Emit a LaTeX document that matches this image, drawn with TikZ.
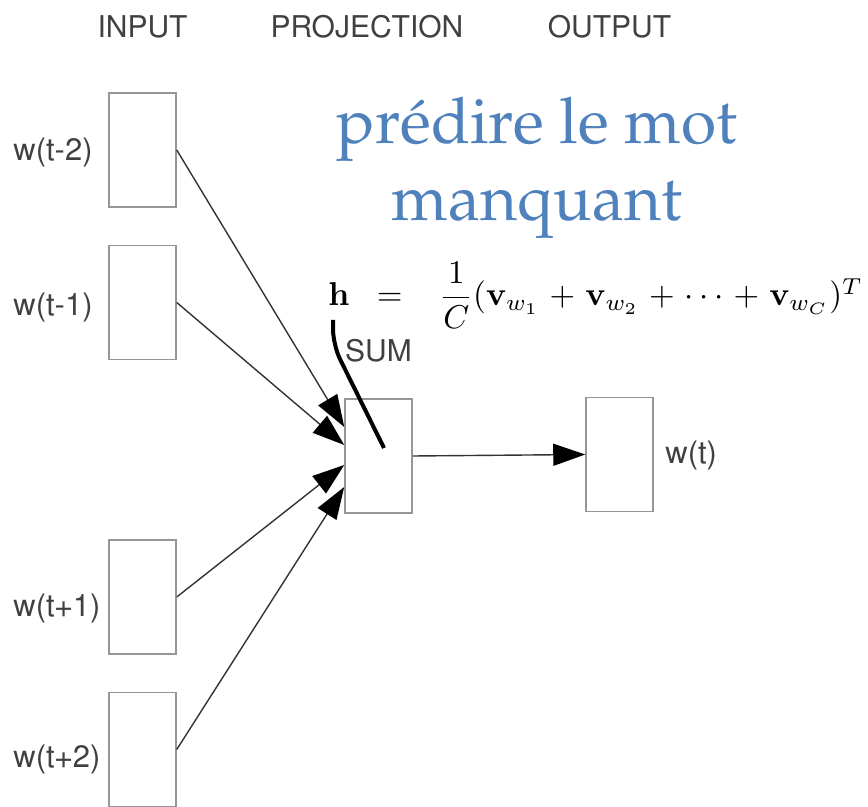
\documentclass[tikz,border=0pt]{standalone}
\usepackage[T1]{fontenc}
\usepackage{amsmath,amssymb}
\usepackage{xcolor}
\usepackage{tikz}
\usetikzlibrary{arrows.meta, positioning, calc}
\definecolor{labelgray}{RGB}{64,64,64}
\definecolor{boxborder}{RGB}{150,150,150}
\definecolor{titleblue}{RGB}{79,129,189}
\tikzset{
  labelfont/.style={font=\fontfamily{phv}\fontsize{15}{18}\selectfont, text=labelgray},
  wordbox/.style={
    rectangle, draw=boxborder, line width=0.75pt, fill=white,
    minimum width=33.5pt, minimum height=57pt, inner sep=0pt
  },
  wordlabel/.style={
    font=\fontfamily{phv}\fontsize{15.5}{18}\selectfont, text=labelgray,
    inner sep=0pt, anchor=west
  },
  flowline/.style={
    draw=black!80, line width=0.7pt,
    -{Triangle[length=16pt, width=11pt, color=black]}
  },
  pointerline/.style={draw=black, line width=2pt, rounded corners=8pt}
}

\begin{document}
\begin{tikzpicture}[x=0.5pt, y=-0.5pt]
  \useasboundingbox (0,0) rectangle (868,807);

  % Column headers
  \node[labelfont] (hinput) at (142.5,27) {INPUT};
  \node[labelfont] (hproj) at (367,27) {PROJECTION};
  \node[labelfont] (houtput) at (609.5,27) {OUTPUT};

  % Input words
  \node[wordbox] (wm2) at (142.5,150) {};
  \node[wordbox] (wm1) at (142.5,302.5) {};
  \node[wordbox] (wp1) at (142.5,597) {};
  \node[wordbox] (wp2) at (142.5,749.5) {};

  \node[wordlabel] (lm2) at (13,152) {w(t-2)};
  \node[wordlabel] (lm1) at (13,307) {w(t-1)};
  \node[wordlabel] (lp1) at (13,608) {w(t+1)};
  \node[wordlabel] (lp2) at (13,759) {w(t+2)};

  % Projection and output
  \node[wordbox] (sum) at (378.5,456) {};
  \node[labelfont, inner sep=0pt, above=18pt of sum] (sumlabel) {SUM};
  \node[wordbox] (out) at (619.5,454.5) {};
  \node[wordlabel] (lout) at (665,455) {w(t)};

  % Task and formula
  \node[font=\fontfamily{ppl}\fontsize{32}{38.5}\selectfont, text=titleblue, align=center] (task) at (537,168) {pr\'edire le mot\\manquant};
  \node[anchor=base west, inner sep=0pt] (formula) at (328,306)
    {\medmuskip=5.5mu\scalebox{1.65}{$\mathbf{h}\;\;=\;\;\;\dfrac{1}{C}(\mathbf{v}_{w_1}+\mathbf{v}_{w_2}+\cdots+\mathbf{v}_{w_C})^T$}};

  % Connectors
  \draw[flowline] (wm2.east) -- ($(sum.west)+(0,-29)$);
  \draw[flowline] (wm1.east) -- ($(sum.west)+(0,-11)$);
  \draw[flowline] (wp1.east) -- ($(sum.west)+(0,9)$);
  \draw[flowline] (wp2.east) -- ($(sum.west)+(0,31)$);
  \draw[flowline] (sum.east) -- (out.west);

  % Pointer from h to the projection
  \coordinate (hfoot) at (333,320);
  \coordinate (hbend) at (333,345);
  \coordinate (htip) at (384,448);
  \draw[pointerline] (hfoot) -- (hbend) -- (htip);

\end{tikzpicture}
\end{document}
